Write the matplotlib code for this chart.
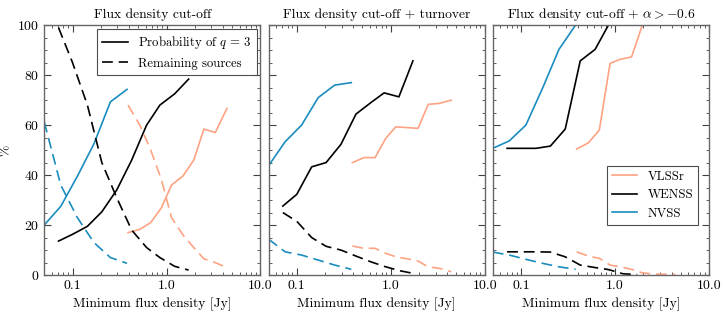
import numpy as np
import matplotlib
matplotlib.use('Agg')
import matplotlib.pyplot as plt
from matplotlib.ticker import FixedLocator, FormatStrFormatter, LogLocator, MultipleLocator

plt.rcParams['font.family'] = 'serif'
plt.rcParams['font.serif'] = ['cmr10']
plt.rcParams['mathtext.fontset'] = 'cm'
plt.rcParams['axes.formatter.use_mathtext'] = True
plt.rcParams['font.size'] = 10

# flux density grids [Jy]
s_vlss = [0.39, 0.52, 0.68, 0.885, 1.13, 1.5, 1.95, 2.5, 3.3, 4.4]
s_wenss = [0.071, 0.1, 0.144, 0.205, 0.295, 0.426, 0.614, 0.85, 1.22, 1.72]
s_nvss = [0.05, 0.075, 0.1125, 0.169, 0.253, 0.38]

titles = ['Flux density cut-off',
          'Flux density cut-off + turnover',
          r'Flux density cut-off + $\alpha > -0.6$']

# probability of q=3 (solid) per panel
prob_vlss = [[17, 18.3, 21, 27, 36, 39.7, 46, 58.4, 57, 66.7],
             [45, 47, 47, 54.7, 59.3, 59, 58.7, 68.3, 68.7, 70],
             [50.4, 52.9, 58, 84.7, 86.3, 87.3, 100, 100, 100, 100]]
prob_wenss = [[13.6, 16.3, 19.5, 25.3, 34, 46, 60, 68, 72.5, 78.4],
              [27.6, 32.3, 43.3, 45, 52.3, 64.4, 69, 72.9, 71.3, 85.7],
              [50.7, 50.7, 50.7, 51.6, 58.4, 85.7, 90.3, 100, 100, 100]]
prob_nvss = [[20, 27.5, 39.5, 52.5, 69.3, 74.3],
             [43.7, 53.3, 60, 71, 76, 77],
             [50.7, 53.7, 60, 74.7, 90.3, 100]]

# remaining sources (dashed) per panel
rem_vlss = [[68, 60, 50, 38, 23, 16, 11, 6.5, 5, 3],
            [11.6, 10.7, 10.7, 8.7, 7.3, 6.5, 5.6, 3.3, 2.7, 1.3],
            [9.3, 7.6, 6.7, 4, 3.3, 2.3, 0.9, 0.4, 0.3, 0.2]]
rem_wenss = [[99, 85, 68, 45, 31, 18, 11, 7, 3.5, 2],
             [25, 21.5, 15, 11.5, 10, 7.6, 5.3, 3.5, 1.8, 0.7],
             [9.3, 9.3, 9.3, 9.2, 7.3, 4, 3, 2.2, 0.5, 0.2]]
rem_nvss = [[61.3, 36, 23, 13, 7, 4.7],
            [14.4, 9.3, 8, 6, 4, 2.3],
            [9.2, 8, 6.3, 4.7, 3.3, 2.3]]

c_vlss = '#fda383'
c_wenss = 'black'
c_nvss = '#1a8cbf'
dash = (0, (6.5, 3.5))
lw = 1.2

fig, axes = plt.subplots(1, 3, figsize=(7.25, 3.14), dpi=100, sharey=True)
fig.subplots_adjust(left=0.061, right=0.978, top=0.92, bottom=0.124, wspace=0.037)

for i, ax in enumerate(axes):
    ax.plot(s_vlss, prob_vlss[i], color=c_vlss, lw=lw, label='VLSSr')
    ax.plot(s_wenss, prob_wenss[i], color=c_wenss, lw=lw, label='WENSS')
    ax.plot(s_nvss, prob_nvss[i], color=c_nvss, lw=lw, label='NVSS')
    ax.plot(s_vlss, rem_vlss[i], color=c_vlss, lw=lw, ls=dash)
    ax.plot(s_wenss, rem_wenss[i], color=c_wenss, lw=lw, ls=dash)
    ax.plot(s_nvss, rem_nvss[i], color=c_nvss, lw=lw, ls=dash)

    ax.set_xscale('log')
    ax.set_xlim(0.05, 10)
    ax.set_ylim(0, 100)
    ax.xaxis.set_major_locator(FixedLocator([0.1, 1.0, 10.0]))
    ax.xaxis.set_major_formatter(FormatStrFormatter('%.1f'))
    ax.xaxis.set_minor_locator(LogLocator(base=10, subs=np.arange(2, 10)))
    ax.xaxis.set_minor_formatter(plt.NullFormatter())
    ax.yaxis.set_major_locator(MultipleLocator(20))
    ax.yaxis.set_minor_locator(MultipleLocator(5))
    ax.tick_params(which='both', direction='in', top=True, right=True, color='0.25',
                   labelsize=10)
    ax.tick_params(which='major', length=5, width=0.8)
    ax.tick_params(which='minor', length=2.5, width=0.6)
    for sp in ax.spines.values():
        sp.set_color('0.4')
        sp.set_linewidth(1.0)
    ax.set_title(titles[i], fontsize=9.7, pad=5)
    ax.set_xlabel('Minimum flux density [Jy]', fontsize=9.8)

axes[0].set_ylabel('%', fontsize=9.8)

# legend for line styles
h1, = axes[0].plot([], [], color='black', lw=lw)
h2, = axes[0].plot([], [], color='black', lw=lw, ls=dash)
leg = axes[0].legend([h1, h2], ['Probability of $q\\,=\\,3$', 'Remaining sources'],
                     loc='upper right', fancybox=False, edgecolor='0.3',
                     borderaxespad=0.3, framealpha=1, fontsize=9.2)
leg.get_frame().set_linewidth(0.8)

leg2 = axes[2].legend(loc='lower right', bbox_to_anchor=(0.95, 0.2), borderaxespad=0,
                      fancybox=False, edgecolor='0.3', framealpha=1, fontsize=9.2)
leg2.get_frame().set_linewidth(0.8)

plt.savefig('out.png', dpi=100)
